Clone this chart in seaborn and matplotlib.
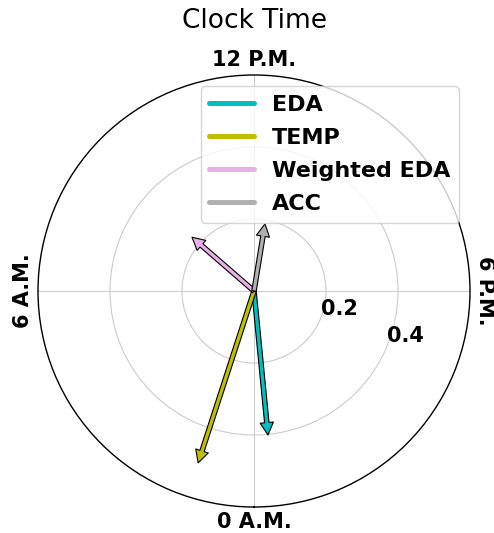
import numpy as np
import matplotlib
matplotlib.use("Agg")
import matplotlib.pyplot as plt
import seaborn as sns
from matplotlib.lines import Line2D

# ---- data ----
signals = ["EDA", "TEMP", "Weighted EDA", "ACC"]
peak_hours = [23.63, 1.20, 8.73, 12.62]
magnitudes = [0.402, 0.502, 0.228, 0.189]
colors = ["#00bfbf", "#bfbf00", "#e8b0e8", "#b0b0b0"]
clock_tick_hours = [0, 6, 12, 18]
clock_labels = ["0 A.M.", "6 A.M.", "12 P.M.", "6 P.M."]
r_ticks = [0.2, 0.4]
r_max = 0.6

sns.set_style("white")
plt.rcParams["font.family"] = ["DejaVu Sans"]
plt.rcParams["text.color"] = "black"
plt.rcParams["xtick.color"] = "black"
plt.rcParams["ytick.color"] = "black"
plt.rcParams["axes.labelcolor"] = "black"

fig = plt.figure(figsize=(4.94, 5.33), dpi=100)
ax = fig.add_axes([38 / 494, 26 / 533, 432 / 494, 432 / 533], projection="polar")
ax.set_theta_zero_location("S")
ax.set_theta_direction(-1)
ax.set_ylim(0, r_max)

ax.set_xticks(np.deg2rad(np.array(clock_tick_hours) * 15.0))
ax.set_xticklabels(clock_labels, fontsize=15, fontweight="bold", color="black")
ax.tick_params(axis="x", labelrotation="auto", pad=0)
ax.set_yticks(r_ticks)
ax.set_yticklabels([f"{v:.1f}" for v in r_ticks], fontsize=15, fontweight="bold",
                   color="black")
ax.set_rlabel_position(292.5)
ax.grid(True, color="#cccccc", lw=0.8)
ax.spines["polar"].set_color("black")
ax.spines["polar"].set_linewidth(1.0)

for name, h, m, c in zip(signals, peak_hours, magnitudes, colors):
    ax.annotate("", xy=(np.deg2rad(h * 15.0), m), xytext=(0, 0),
                xycoords="data", textcoords="data",
                arrowprops=dict(facecolor=c, edgecolor="black", width=3.2,
                                headwidth=9.5, headlength=9, lw=0.8, shrink=0))

handles = [Line2D([0], [0], color=c, lw=3.6) for c in colors]
leg = ax.legend(handles, signals, loc="upper right", labelspacing=0.58,
                prop={"weight": "bold", "size": 16})
for t in leg.get_texts():
    t.set_color("black")

ax.set_title("Clock Time", fontsize=19, pad=16, color="black")

fig.savefig("out.png", dpi=100)
